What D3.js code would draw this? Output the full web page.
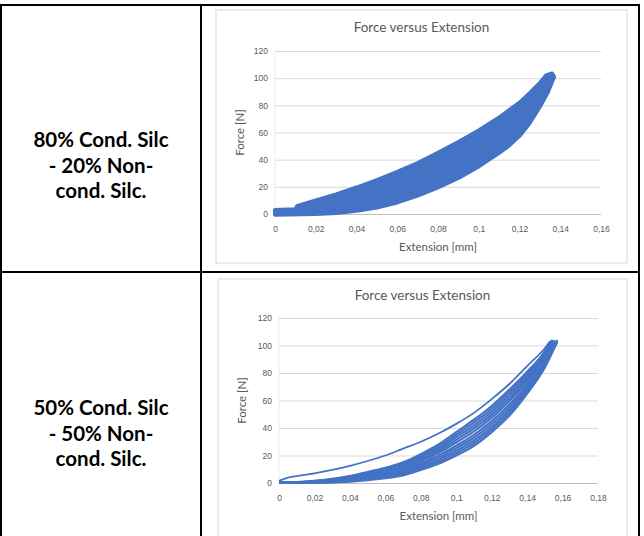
<!DOCTYPE html>
<html>
<head>
<meta charset="utf-8">
<script src="https://cdn.jsdelivr.net/npm/d3@7"></script>
<style>
  body { margin: 0; background: #fff; }
  svg { display: block; font-family: Lato, "Open Sans", sans-serif; }
  .tick text { fill: #595959; font-size: 8.5px; }
</style>
</head>
<body>
<div id="chart"></div>
<script>
var width = 644;
var height = 536;

// row labels
var rowLabels = [
  ["80% Cond. Silc", "- 20% Non-", "cond. Silc."],
  ["50% Cond. Silc", "- 50% Non-", "cond. Silc."]
];
var forceTicks = [0, 20, 40, 60, 80, 100, 120];
var extTicks1 = [0, 0.02, 0.04, 0.06, 0.08, 0.1, 0.12, 0.14, 0.16];
var extTicks2 = [0, 0.02, 0.04, 0.06, 0.08, 0.1, 0.12, 0.14, 0.16, 0.18];

// sample 1: envelope of the overlapping cycles (edges of the marker band)
var upperExt1 = [0, 0.01, 0.011, 0.02, 0.03, 0.04, 0.05, 0.06, 0.07, 0.08, 0.09, 0.1, 0.11, 0.12, 0.125, 0.13, 0.133, 0.136];
var upperForce1 = [3, 3.5, 6, 10, 14.5, 19.5, 25, 31, 37.5, 45, 53, 61.5, 71, 82, 89, 96.5, 102, 103.5];
var lowerExt1 = [0, 0.02, 0.03, 0.04, 0.05, 0.06, 0.07, 0.08, 0.09, 0.1, 0.11, 0.115, 0.12, 0.125, 0.13, 0.134, 0.137];
var lowerForce1 = [-0.5, 0, 0.8, 2.3, 4.8, 8.5, 13.5, 19.5, 26.5, 35, 45, 50.5, 57.5, 67, 79, 90, 101];

// sample 2: first loading curve
var firstExt2 = [0, 0.003, 0.006, 0.01, 0.02, 0.03, 0.04, 0.05, 0.06, 0.07, 0.08, 0.09, 0.1, 0.11, 0.12, 0.13, 0.14, 0.15, 0.153];
var firstForce2 = [1.5, 3, 4.2, 5, 7, 9.5, 12.5, 16, 20, 25, 30, 36, 43, 51, 61, 72, 85, 98, 103];

// sample 2: following cycles, read at these extensions
var cycleExt2 = [0, 0.01, 0.02, 0.03, 0.04, 0.05, 0.06, 0.07, 0.08, 0.09, 0.1, 0.11, 0.12, 0.13, 0.14, 0.15];
var cycle1 = [0.3, 0.6, 1.5, 3, 5, 8, 11, 15, 21, 28, 37, 46, 56, 68, 81, 96];
var cycle2 = [0.3, 0.5, 1.3, 2.7, 4.6, 7.3, 10.2, 14, 19.7, 26.5, 35.1, 43.9, 53.9, 65.9, 79.2, 94.7];
var cycle3 = [0.2, 0.5, 1.2, 2.5, 4.1, 6.7, 9.4, 12.9, 18.5, 24.9, 33.3, 41.8, 51.8, 63.8, 77.5, 93.4];
var cycle4 = [0.2, 0.4, 1, 2.2, 3.7, 6, 8.5, 11.9, 17.2, 23.4, 31.4, 39.7, 49.7, 61.7, 75.7, 92];
var cycle5 = [0.2, 0.3, 0.8, 1.9, 3.2, 5.4, 7.7, 10.8, 15.9, 21.8, 29.5, 37.6, 47.6, 59.6, 74, 90.7];
var cycle6 = [0.1, 0.3, 0.6, 1.6, 2.7, 4.5, 6.7, 9.5, 14.3, 19.9, 27.1, 35, 45, 57, 71.7, 89];
var cycle7 = [0.1, 0.2, 0.5, 1.3, 2.2, 3.9, 5.8, 8.4, 13.1, 18.3, 25.3, 32.9, 42.9, 54.9, 70, 87.7];
var cycle8 = [0.1, 0.1, 0.3, 1, 1.8, 3.2, 5, 7.4, 11.8, 16.8, 23.4, 30.8, 40.8, 52.8, 68.2, 86.4];
var cycle9 = [0, 0.1, 0.2, 0.8, 1.4, 2.6, 4.3, 6.5, 10.7, 15.4, 21.7, 28.9, 38.9, 50.9, 66.6, 85.2];
var cycle10 = [0, 0, 0, 0.5, 1, 2, 3.5, 5.5, 9.5, 14, 20, 27, 37, 49, 65, 84];
var peakExt2 = [0.153, 0.154, 0.154, 0.155, 0.155, 0.156, 0.156, 0.157, 0.157, 0.157];
var peakForce2 = [103, 104, 102.5, 104, 103, 102, 103.5, 104, 102.5, 103];

var blue = "#4472c4";
var grey = "#595959";
var fmt = d => String(+d.toFixed(2)).replace(".", ",");

var svg = d3.select("#chart").append("svg")
  .attr("width", width)
  .attr("height", height);

// table grid
var tableLines = [
  [0, 5, 640, 5],
  [1, 5, 1, height],
  [201, 5, 201, height],
  [639, 5, 639, height],
  [1, 272, 639, 272]
];
svg.selectAll(".grid-line")
  .data(tableLines)
  .enter()
  .append("line")
  .attr("x1", d => d[0]).attr("y1", d => d[1])
  .attr("x2", d => d[2]).attr("y2", d => d[3])
  .attr("stroke", "#000")
  .attr("stroke-width", 2);

var labelY = [140, 408];
rowLabels.forEach((lines, i) => {
  svg.append("text")
    .attr("x", 101)
    .attr("y", labelY[i])
    .attr("text-anchor", "middle")
    .attr("font-size", 20.5)
    .attr("font-weight", "bold")
    .attr("fill", "#000")
    .selectAll("tspan")
    .data(lines)
    .enter()
    .append("tspan")
    .attr("x", 101)
    .attr("dy", (d, j) => j == 0 ? "0.35em" : 25.5)
    .text(d => d);
});

function drawFrame(box, x, y, ticks) {
  svg.append("rect")
    .attr("x", box.x).attr("y", box.y)
    .attr("width", box.w).attr("height", box.h)
    .attr("fill", "#fff")
    .attr("stroke", "#d9d9d9");

  svg.append("text")
    .attr("x", box.x + box.w / 2)
    .attr("y", box.titleY)
    .attr("text-anchor", "middle")
    .attr("font-size", 13.5)
    .attr("fill", grey)
    .text("Force versus Extension");

  var r = x.range();
  var yAxis = svg.append("g")
    .attr("transform", "translate(" + r[0] + ",0)")
    .call(d3.axisLeft(y).tickValues(forceTicks).tickSize(r[0] - r[1]).tickPadding(7).tickFormat(d => d));
  yAxis.select(".domain").remove();
  yAxis.selectAll(".tick line")
    .attr("stroke", d => d == 0 ? "#bfbfbf" : "#d9d9d9");

  svg.append("line")
    .attr("x1", r[0]).attr("x2", r[0])
    .attr("y1", y(0)).attr("y2", y(120))
    .attr("stroke", "#ececec");

  var xAxis = svg.append("g")
    .attr("transform", "translate(0," + y(0) + ")")
    .call(d3.axisBottom(x).tickValues(ticks).tickSize(0).tickPadding(12).tickFormat(fmt));
  xAxis.select(".domain").remove();

  svg.append("text")
    .attr("x", (r[0] + r[1]) / 2)
    .attr("y", y(0) + 37)
    .attr("text-anchor", "middle")
    .attr("font-size", 11.5)
    .attr("fill", grey)
    .text("Extension [mm]");

  svg.append("text")
    .attr("transform", "translate(" + box.yTitleX + "," + (y(0) + y(120)) / 2 + ") rotate(-90)")
    .attr("text-anchor", "middle")
    .attr("dy", "0.35em")
    .attr("font-size", 11.5)
    .attr("fill", grey)
    .text("Force [N]");
}

// chart 1
var x1 = d3.scaleLinear().domain([0, 0.16]).range([275, 601]);
var y1 = d3.scaleLinear().domain([0, 120]).range([214, 51]);
drawFrame({x: 216, y: 10, w: 411, h: 253, titleY: 32, yTitleX: 240}, x1, y1, extTicks1);

var bandPoints = upperExt1.map((e, i) => [e, upperForce1[i]])
  .concat(lowerExt1.map((e, i) => [e, lowerForce1[i]]).reverse());
svg.append("path")
  .datum(bandPoints)
  .attr("d", d3.line().x(d => x1(d[0])).y(d => y1(d[1])).curve(d3.curveLinearClosed))
  .attr("fill", blue)
  .attr("stroke", blue)
  .attr("stroke-width", 4)
  .attr("stroke-linejoin", "round");

// chart 2
var x2 = d3.scaleLinear().domain([0, 0.18]).range([279, 598]);
var y2 = d3.scaleLinear().domain([0, 120]).range([483, 318]);
drawFrame({x: 218, y: 279, w: 409, h: 280, titleY: 300, yTitleX: 242}, x2, y2, extTicks2);

var line2 = d3.line().x(d => x2(d[0])).y(d => y2(d[1])).curve(d3.curveMonotoneX);
var cycles = [cycle1, cycle2, cycle3, cycle4, cycle5, cycle6, cycle7, cycle8, cycle9, cycle10];
cycles.forEach((f, i) => {
  var pts = cycleExt2.map((e, j) => [e, f[j]]);
  pts.push([peakExt2[i], peakForce2[i]]);
  svg.append("path")
    .datum(pts)
    .attr("d", line2)
    .attr("fill", "none")
    .attr("stroke", blue)
    .attr("stroke-width", 2.2);
});

svg.append("path")
  .datum(firstExt2.map((e, i) => [e, firstForce2[i]]))
  .attr("d", line2)
  .attr("fill", "none")
  .attr("stroke", blue)
  .attr("stroke-width", 1.8);
</script>
</body>
</html>
